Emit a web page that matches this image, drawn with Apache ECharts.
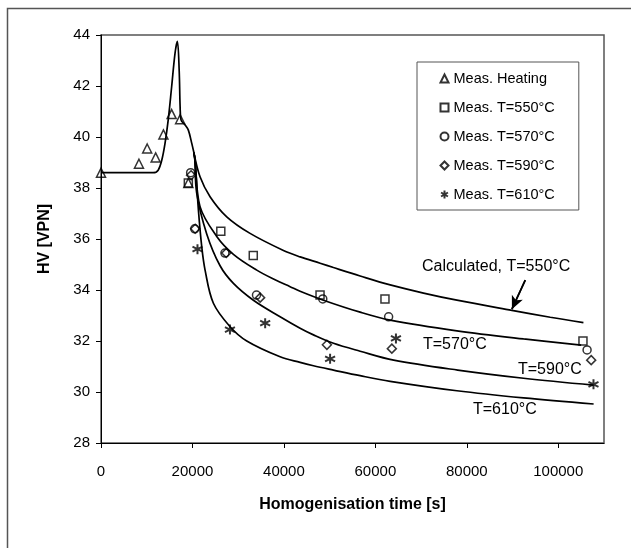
<!DOCTYPE html>
<html><head><meta charset="utf-8">
<script src="https://cdn.jsdelivr.net/npm/echarts@6/dist/echarts.min.js"></script>
<style>html,body{margin:0;padding:0;background:#fff}#c{width:631px;height:548px}</style>
</head><body><div id="c"></div>
<script>
// ---- data ----
var xTicks = [0, 20000, 40000, 60000, 80000, 100000];
var yTicks = [28, 30, 32, 34, 36, 38, 40, 42, 44];

var measHeating = [[0,38.6],[8300,38.95],[10100,39.55],[11950,39.2],[13650,40.1],[15450,40.9],[17300,40.7],[19100,38.2]];
var meas550 = [[19100,38.2],[26200,36.3],[33300,35.35],[47900,33.8],[62100,33.65],[105400,32.0]];
var meas570 = [[19600,38.6],[20500,36.4],[27100,35.45],[34000,33.8],[48500,33.65],[62900,32.95],[106300,31.65]];
var meas590 = [[19700,38.5],[20600,36.4],[27400,35.45],[34800,33.7],[49400,31.85],[63600,31.7],[107200,31.25]];
var meas610 = [[21100,35.6],[28200,32.45],[35900,32.7],[50100,31.3],[64500,32.1],[107700,30.3]];

var calcHeating = [[0,38.6],[11400,38.6],[12500,38.7],[13300,39.1],[14000,39.75],[14700,40.67],[15450,41.97],[16200,43.3],[16700,43.75],[17100,42.6],[17300,41.2],[17500,40.67],[18400,40.47],[19100,40.27],[19850,39.75],[20300,39.4]];
var calc550 = [[20300,39.4],[21660,38.44],[23850,37.66],[27500,36.87],[32600,36.22],[39900,35.55],[43540,35.3],[47920,35.05],[50840,34.88],[56670,34.55],[63240,34.2],[70530,33.88],[77830,33.6],[89860,33.2],[98250,32.93],[105500,32.72]];
var calc570 = [[20300,39.4],[20570,39.1],[21660,37.27],[25310,36.1],[28960,35.4],[34060,34.78],[38070,34.4],[41360,34.13],[43540,33.95],[48640,33.6],[56670,33.13],[63240,32.82],[77830,32.4],[92410,32.08],[105000,31.84]];
var calc590 = [[20300,39.4],[20500,39.15],[20930,37.8],[23120,36.2],[26040,34.95],[28960,34.26],[33330,33.6],[39170,32.95],[43540,32.5],[46460,32.24],[50840,31.91],[56670,31.6],[64000,31.25],[78000,30.86],[92410,30.54],[107730,30.27]];
var calc610 = [[20300,39.4],[20600,39.0],[21300,37.14],[22030,35.7],[22760,34.78],[24580,33.48],[28230,32.56],[31880,32.0],[39170,31.38],[43540,31.16],[46460,31.03],[50840,30.86],[56670,30.64],[63240,30.42],[77830,30.05],[92410,29.77],[107730,29.53]];

var arrowLine = [[92780,34.39],[89860,33.25]];

var legendNames = ['Meas. Heating','Meas. T=550°C','Meas. T=570°C','Meas. T=590°C','Meas. T=610°C'];
var curveLabels = ['Calculated, T=550°C','T=570°C','T=590°C','T=610°C'];

// ---- chart ----
var FONT = 'Liberation Sans, Arial, sans-serif';
var chart = echarts.init(document.getElementById('c'), null, {renderer:'canvas'});

function curve(d){
  return {type:'line', data:d, showSymbol:false, smooth:0.35,
    lineStyle:{color:'#000', width:1.7}, silent:true, z:2};
}
function meas(name, d, sym, size, bw){
  return {type:'scatter', name:name, data:d, symbol:sym, symbolSize:size,
    itemStyle:{color:'none', borderColor:'#000', borderWidth:bw||1.5}, z:5};
}
var starPath = 'path://M5,0L5,10M0.7,2.5L9.3,7.5M0.7,7.5L9.3,2.5';

var option = {
  animation:false,
  backgroundColor:'#fff',
  grid:{left:101, top:35, right:27, bottom:105, show:true, borderColor:'#555', borderWidth:1.5},
  xAxis:{type:'value', min:0, max:110000, interval:20000,
    name:'Homogenisation time [s]', nameLocation:'middle', nameGap:54,
    nameTextStyle:{fontFamily:FONT, fontSize:16, fontWeight:'bold', color:'#000'},
    axisLine:{lineStyle:{color:'#000', width:1}},
    axisTick:{length:5, lineStyle:{color:'#000'}},
    axisLabel:{fontFamily:FONT, fontSize:15, color:'#000', margin:21, showMaxLabel:false,
      formatter:function(v){return xTicks.indexOf(v)>=0? String(v):'';}},
    splitLine:{show:false}},
  yAxis:{type:'value', min:28, max:44, interval:2,
    name:'HV [VPN]', nameLocation:'middle', nameGap:48, nameRotate:90,
    nameTextStyle:{fontFamily:FONT, fontSize:16, fontWeight:'bold', color:'#000'},
    axisLine:{show:true, lineStyle:{color:'#000', width:1}},
    axisTick:{show:true, length:5, lineStyle:{color:'#000'}},
    axisLabel:{fontFamily:FONT, fontSize:15, color:'#000', margin:11,
      formatter:function(v){return yTicks.indexOf(v)>=0? String(v):'';}},
    splitLine:{show:false}},
  legend:{data:legendNames, orient:'vertical', left:417, top:62,
    itemWidth:8, itemHeight:8, itemGap:14,
    padding:[9,24,8,21], borderColor:'#555', borderWidth:1, backgroundColor:'#fff',
    textStyle:{fontFamily:FONT, fontSize:14.5, color:'#000'}, selectedMode:false},
  graphic:[
    {type:'rect', shape:{x:7.5, y:8.5, width:700, height:700}, style:{fill:'none', stroke:'#555', lineWidth:1.5}, z:-1, silent:true},
    {type:'text', left:422, top:259, style:{text:curveLabels[0], font:'16px '+FONT, fill:'#000'}},
    {type:'text', left:423, top:337, style:{text:curveLabels[1], font:'16px '+FONT, fill:'#000'}},
    {type:'text', left:518, top:362, style:{text:curveLabels[2], font:'16px '+FONT, fill:'#000'}},
    {type:'text', left:473, top:402, style:{text:curveLabels[3], font:'16px '+FONT, fill:'#000'}}
  ],
  series:[
    curve(calcHeating), curve(calc550), curve(calc570), curve(calc590), curve(calc610),
    {type:'line', data:arrowLine, showSymbol:false, lineStyle:{color:'#000', width:1.6}, silent:true,
      markLine:{silent:true, symbol:['none','arrow'], symbolSize:[9,13], lineStyle:{color:'#000', width:1.6, type:'solid'}, label:{show:false},
        data:[[{coord:arrowLine[0]},{coord:arrowLine[1]}]]}},
    meas(legendNames[0], measHeating, 'triangle', 9),
    meas(legendNames[1], meas550, 'rect', 8),
    meas(legendNames[2], meas570, 'circle', 8),
    meas(legendNames[3], meas590, 'diamond', 9),
    meas(legendNames[4], meas610, starPath, 10, 2)
  ]
};
chart.setOption(option);
</script></body></html>
